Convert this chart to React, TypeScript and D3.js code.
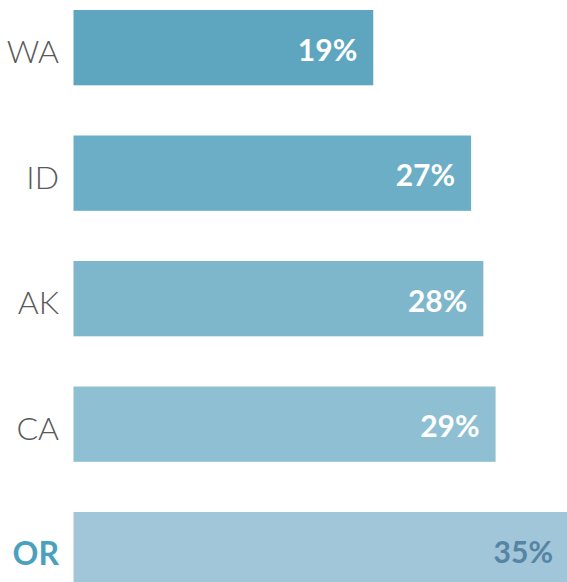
import React from "react";
import * as d3 from "d3";

const states = ["WA", "ID", "AK", "CA", "OR"];
const shares = [19, 27, 28, 29, 35];
const barColors = ["#5ea6c0", "#6caec6", "#7eb6cb", "#8fbfd2", "#a1c5d9"];
const highlight = "OR";

const W = 567;
const H = 582;

export default function App() {
  const x = d3.scaleLinear().domain([-5.5, 35]).range([73.5, 569]);
  const y = d3
    .scaleBand<string>()
    .domain(states)
    .range([10, 587.3])
    .paddingInner(0.4)
    .paddingOuter(0);
  const fmt = (v: number) => d3.format(".0f")(v) + "%";

  return (
    <svg
      width={W}
      height={H}
      style={{ position: "absolute", left: 0, top: 0, overflow: "hidden" }}
      fontFamily="Lato, 'Open Sans', sans-serif"
    >
      {states.map((s, i) => {
        const y0 = y(s)!;
        const bw = y.bandwidth();
        const cy = y0 + bw / 2;
        const isHi = s === highlight;
        const x1 = x(shares[i]);
        return (
          <g key={s}>
            <rect x={x(-5.5)} y={y0} width={x1 - x(-5.5)} height={bw} fill={barColors[i]} />
            <text
              x={59}
              y={cy + 3}
              textAnchor="end"
              dominantBaseline="central"
              fontSize={32}
              fontWeight={isHi ? 700 : 300}
              fill={isHi ? "#4ba0bd" : "#595959"}
            >
              {s}
            </text>
            <text
              x={x1 - 16}
              y={cy + 1}
              textAnchor="end"
              dominantBaseline="central"
              fontSize={30}
              fontWeight={700}
              fill={isHi ? "#5684a3" : "#ffffff"}
            >
              {fmt(shares[i])}
            </text>
          </g>
        );
      })}
    </svg>
  );
}
